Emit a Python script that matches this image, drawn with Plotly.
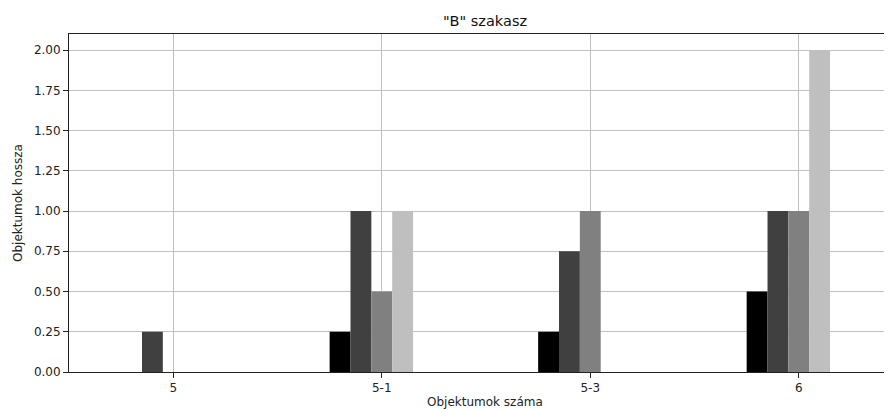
import plotly.graph_objects as go

categories = ["5", "5-1", "5-3", "6"]
series_names = ["1", "2", "3", "4", "5"]
series_values = [
    [0.0, 0.25, 0.25, 0.5],
    [0.25, 1.0, 0.75, 1.0],
    [0.0, 0.5, 1.0, 1.0],
    [0.0, 1.0, 0.0, 2.0],
    [0.0, 0.0, 0.0, 0.0],
]
series_colors = ["#000000", "#404040", "#808080", "#bfbfbf", "#ffffff"]
y_ticks = [0, 0.25, 0.5, 0.75, 1.0, 1.25, 1.5, 1.75, 2.0]

FONT = "DejaVu Sans"
OFF = 8  # page body margin
W, H = 892 - OFF, 410 - OFF
L, T = 69 - OFF, 34 - OFF
B = H - (372 - OFF)
PW, PH = W - L, H - T - B

fig = go.Figure()
for name, vals, col in zip(series_names, series_values, series_colors):
    fig.add_trace(go.Bar(x=categories, y=vals, name=name,
                         marker=dict(color=col, line=dict(width=0)),
                         showlegend=False))

fig.update_layout(
    width=W, height=H,
    margin=dict(l=L, r=0, t=T, b=B, autoexpand=False),
    plot_bgcolor="white", paper_bgcolor="white",
    barmode="group", bargap=0.5, bargroupgap=0,
    font=dict(family=FONT, size=12, color="#222"),
    title=dict(text='"B" szakasz', x=(485 - OFF) / W, xanchor="center",
               y=1 - (21 - OFF) / H, yanchor="middle",
               font=dict(family=FONT, size=14.5, color="#111")),
)
fig.update_xaxes(
    type="category", range=[-0.5, 3.447],
    showgrid=True, gridcolor="#c0c0c0", gridwidth=1,
    showline=True, linecolor="#222", linewidth=1, mirror=True,
    ticks="outside", ticklen=5, tickcolor="#222",
    layer="above traces",
    tickfont=dict(family=FONT, size=12, color="#222"),
)
fig.update_yaxes(
    range=[0, 2.1], tickvals=y_ticks, tickformat=".2f",
    showgrid=True, gridcolor="#c0c0c0", gridwidth=1, zeroline=False,
    showline=True, linecolor="#222", linewidth=1,
    ticks="outside", ticklen=5, tickcolor="#222",
    layer="above traces",
    tickfont=dict(family=FONT, size=12, color="#222"),
)
fig.add_annotation(text="Objektumok száma", xref="paper", yref="paper",
                   x=(485 - 69) / PW, y=-(402 - 372) / PH,
                   xanchor="center", yanchor="middle", showarrow=False,
                   font=dict(family=FONT, size=12, color="#222"))
fig.add_annotation(text="Objektumok hossza", xref="paper", yref="paper",
                   x=-(69 - 18) / PW, y=0.5, textangle=-90,
                   xanchor="center", yanchor="middle", showarrow=False,
                   font=dict(family=FONT, size=12, color="#222"))

fig.write_html("out.html")
